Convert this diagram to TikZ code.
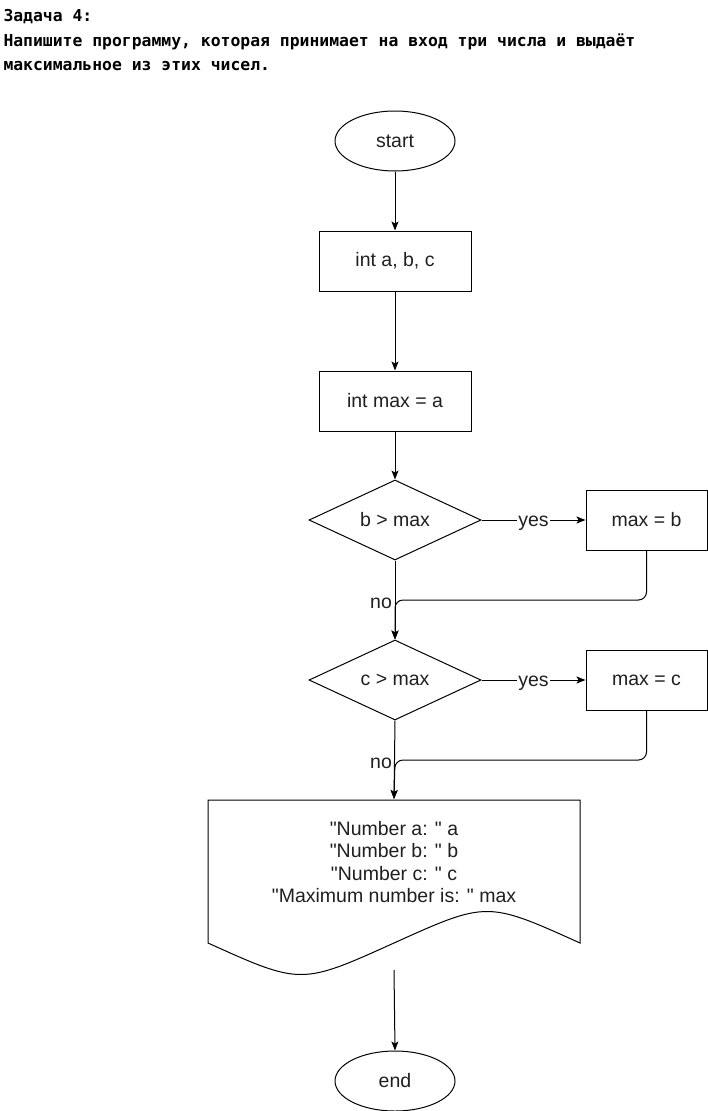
\documentclass[tikz,border=0pt]{standalone}
\usepackage{fontspec}
\setmainfont{Liberation Sans}[Ligatures=TeXOff]
\newfontfamily\titlefont{DejaVu Sans Mono}
\usetikzlibrary{shapes.geometric,arrows.meta}
\begin{document}
\begin{tikzpicture}[x=1pt,y=-1pt,
  line width=1pt,
  every node/.style={font=\fontsize{19.5}{22.5}\selectfont, text=black!88},
  term/.style={draw, ellipse, minimum width=120pt, minimum height=60pt, inner sep=0pt},
  proc/.style={draw, rectangle, minimum width=152pt, minimum height=60pt, inner sep=0pt},
  proc2/.style={draw, rectangle, minimum width=121pt, minimum height=60pt, inner sep=0pt},
  cond/.style={draw, diamond, aspect=2.15, minimum width=172pt, minimum height=80pt, inner sep=0pt},
  arr/.style={-{Stealth[length=9pt,width=7pt,inset=2pt]}},
  lbl/.style={fill=white, inner sep=1pt, text height=10pt, text depth=4pt, yshift=-3pt},
  ttl/.style={anchor=west, inner sep=0pt, font=\titlefont\bfseries\fontsize{16.4}{20}\selectfont, text=black}
]
\useasboundingbox (0,0) rectangle (707,1111);

\node[ttl] (t1) at (3,17) {Задача 4:};
\node[ttl] (t2) at (3,42) {Напишите программу, которая принимает на вход три числа и выдаёт};
\node[ttl] (t3) at (3,66) {максимальное из этих чисел.};

\node[term] (start) at (395,141) {start};
\node[proc] (abc) at (395,261) {int a, b, c};
\node[proc] (mx) at (395,401) {int max = a};
\node[cond] (d1) at (395,520) {b > max};
\node[proc2] (mb) at (646.5,520) {max = b};
\node[cond] (d2) at (395,680) {c > max};
\node[proc2] (mc) at (646.5,680) {max = c};

% document shape
\coordinate (docb) at (394,970);
\draw (208,800) -- (580,800) -- (580,943)
  .. controls (487,901) .. (394,943)
  .. controls (301,985) .. (208,943) -- cycle;
\node[minimum width=372pt, minimum height=1pt, inner sep=0pt] (doc) at (394,800) {};
\node[align=center, inner sep=0pt] (doctext) at (394,862) {"Number a: " a\\"Number b: " b\\"Number c: " c\\"Maximum number is: " max};

\node[term] (end) at (395,1081) {end};

\draw[arr] (start) -- (abc);
\draw[arr] (abc) -- (mx);
\draw[arr] (mx) -- (d1);
\draw[arr] (d1.east) -- node[lbl] {yes} (mb.west);
\draw[arr] (d1.south) -- (d2.north);
\draw[arr, rounded corners=8pt] (mb.south) -- (646.5,600) -- (395,600) -- (d2.north);
\node[inner sep=0pt] (no1) at (381,603) {no};
\draw[arr] (d2.east) -- node[lbl] {yes} (mc.west);
\draw[arr] (d2.south) -- (doc.north);
\draw[arr, rounded corners=8pt] (mc.south) -- (646.5,760) -- (395,760) -- (doc.north);
\node[inner sep=0pt] (no2) at (381,763) {no};
\draw[arr] (docb) -- (end.north);
\end{tikzpicture}
\end{document}
